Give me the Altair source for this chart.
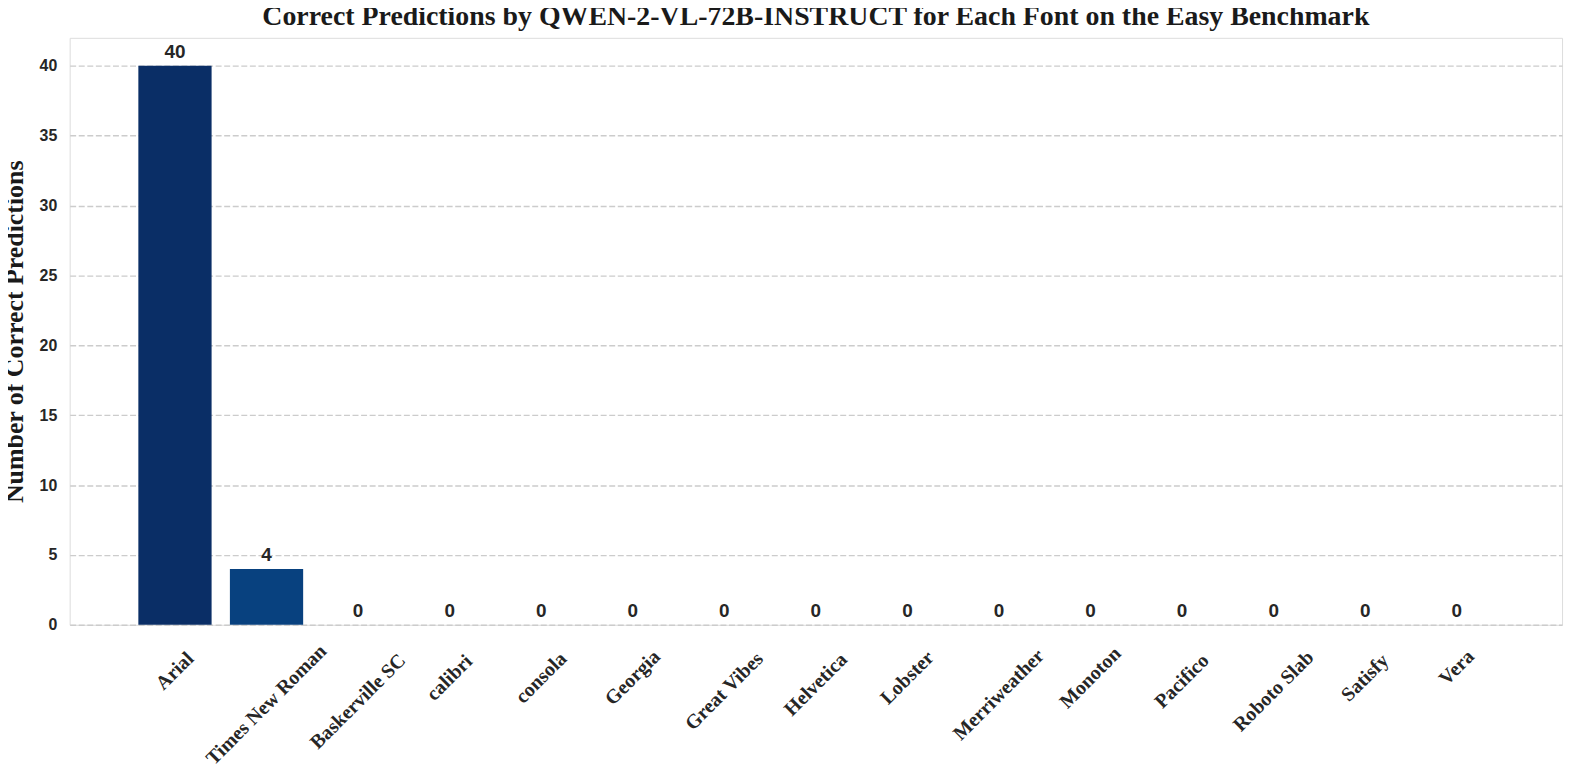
import altair as alt
import pandas as pd

fonts = ["Arial", "Times New Roman", "Baskerville SC", "calibri", "consola",
         "Georgia", "Great Vibes", "Helvetica", "Lobster", "Merriweather",
         "Monoton", "Pacifico", "Roboto Slab", "Satisfy", "Vera"]
correct = [40, 4, 0, 0, 0, 0, 0, 0, 0, 0, 0, 0, 0, 0, 0]
colors = ["#0a2e66", "#08417f", "#0d57a1", "#1f6eb3", "#3282be", "#4a98c9",
          "#65aad4", "#85bcdc", "#a0cbe2", "#b7d4ea", "#cadef0", "#d9e8f5",
          "#e3eef8", "#eef5fc", "#f7fbff"]
y_ticks = [0, 5, 10, 15, 20, 25, 30, 35, 40]

df = pd.DataFrame({"font": fonts, "correct": correct})

x = alt.X("font:N", sort=fonts, title=None,
          scale=alt.Scale(paddingInner=0.2, paddingOuter=0.75),
          axis=alt.Axis(labelAngle=315, labelAlign="center", labelBaseline="middle",
                        labelFont="Liberation Serif", labelFontWeight="bold",
                        labelFontSize=20, labelColor="#262626",
                        labelPadding=alt.ExprRef("22 + 0.354*(length(datum.label)*9.6 + 20)"),
                        ticks=False, tickSize=0, domain=False, grid=False))
y = alt.Y("correct:Q", title="Number of Correct Predictions",
          scale=alt.Scale(domain=[0, 42], nice=False),
          axis=alt.Axis(values=y_ticks, labelFont="Liberation Sans", labelFontWeight="bold",
                        labelFontSize=16, labelColor="#262626", labelPadding=13,
                        ticks=False, tickSize=0, domain=False,
                        grid=True, gridColor="#cccccc", gridWidth=1.4, gridDash=[6, 2.6],
                        titleFont="Liberation Serif", titleFontWeight="bold",
                        titleFontSize=26, titleColor="#1a1a1a", titlePadding=12))

bars = alt.Chart(df).mark_bar().encode(
    x=x, y=y,
    color=alt.Color("font:N", sort=fonts, legend=None,
                    scale=alt.Scale(domain=fonts, range=colors)),
)
labels = alt.Chart(df).mark_text(baseline="bottom", dy=-4, font="Liberation Sans",
                                 fontWeight="bold", fontSize=19, color="#262626").encode(
    x=alt.X("font:N", sort=fonts), y="correct:Q", text="correct:Q")

chart = alt.layer(bars, labels).properties(
    width=1500, height=590,
    title=alt.Title("Correct Predictions by QWEN-2-VL-72B-INSTRUCT for Each Font on the Easy Benchmark",
                    font="Liberation Serif", fontWeight="bold", fontSize=28, color="#1a1a1a",
                    anchor="middle", offset=7),
    autosize=alt.AutoSizeParams(type="none"),
    padding={"left": 62, "top": 28, "right": 7, "bottom": 150},
).configure_view(stroke="#cccccc", strokeWidth=1.5).configure(background="white")

chart.save("out.html", embed_options={"renderer": "svg", "actions": False})
